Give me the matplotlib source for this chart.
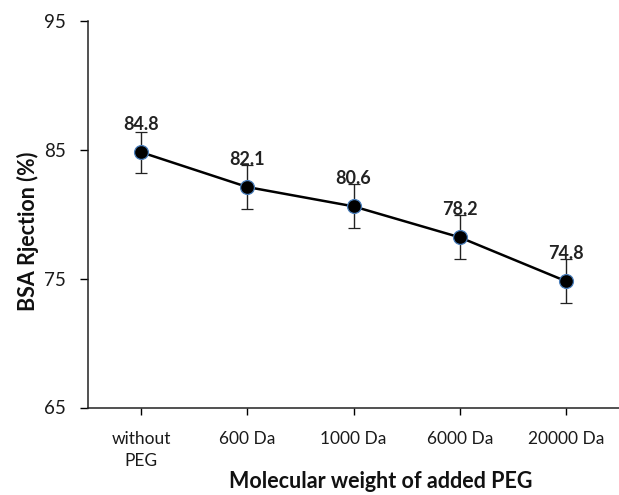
import matplotlib.pyplot as plt
import numpy as np

# BSA rejection vs. PEG additive molecular weight
categories = ['without\nPEG', '600 Da', '1000 Da', '6000 Da', '20000 Da']
rejection = [84.8, 82.1, 80.6, 78.2, 74.8]
rejection_err = [1.6, 1.7, 1.7, 1.7, 1.7]
y_ticks = [65, 75, 85, 95]

plt.rcParams['font.family'] = ['Lato', 'DejaVu Sans']

fig = plt.figure(figsize=(6.19, 4.95), dpi=100)
ax = fig.add_axes([88 / 619, 1 - 407.5 / 495, 1 - 88 / 619, (407.5 - 20.7) / 495])

x = np.arange(len(categories))
ax.errorbar(x, rejection, yerr=rejection_err, color='black', lw=1.8,
            marker='o', markersize=10, markerfacecolor='black',
            markeredgecolor='#4a7ebb', markeredgewidth=0.9,
            ecolor='#222222', elinewidth=1.0, capsize=4.5, capthick=1.0,
            zorder=3)

for xi, v in zip(x, rejection):
    ax.annotate(f'{v:.1f}', (xi, v), xytext=(0, 20), textcoords='offset points',
                ha='center', va='center', fontsize=13, fontweight='bold',
                color='#222222')

ax.set_xlim(-0.5, len(categories) - 0.5)
ax.set_ylim(65, 95)
ax.set_yticks(y_ticks)
ax.set_xticks(x)
ax.set_xticklabels(categories, fontsize=12.5, color='#1a1a1a', linespacing=1.45)
ax.tick_params(axis='y', labelsize=13.5, labelcolor='#1a1a1a', length=6, width=1, pad=10)
ax.tick_params(axis='x', length=5, width=1, pad=12)

for side in ['top', 'right']:
    ax.spines[side].set_visible(False)
for side in ['left', 'bottom']:
    ax.spines[side].set_linewidth(1.1)
    ax.spines[side].set_color('#222222')

fig.text(381 / 619, 1 - 482 / 495, 'Molecular weight of added PEG', ha='center',
         va='center', fontsize=15.5, fontweight='bold', color='#111111')
fig.text(28 / 619, 1 - 231 / 495, 'BSA Rjection (%)', ha='center', va='center',
         rotation=90, fontsize=15.5, fontweight='bold', color='#111111')

fig.savefig('out.png', dpi=100)
